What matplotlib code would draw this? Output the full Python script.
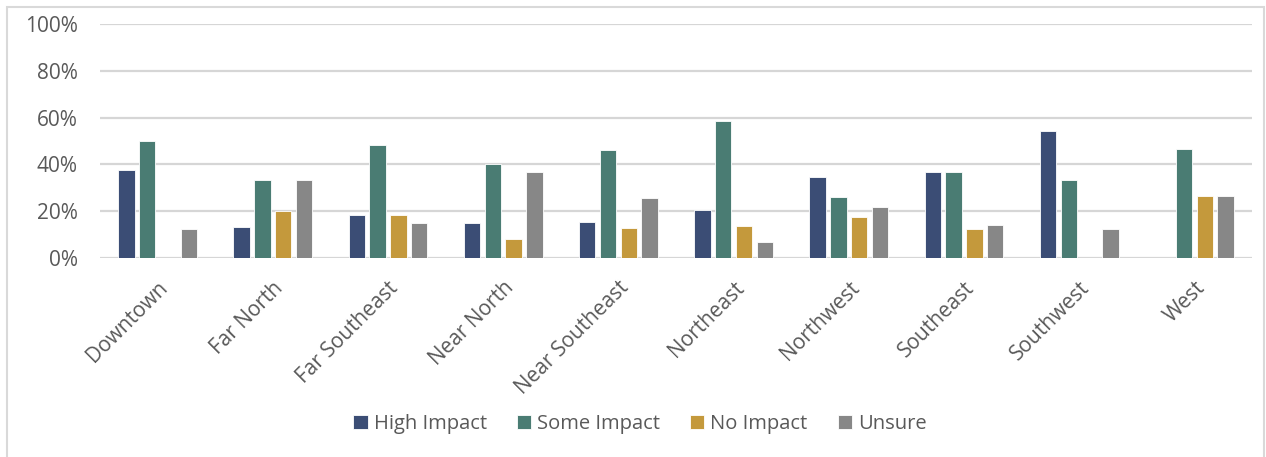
import numpy as np
import matplotlib.pyplot as plt
from matplotlib.patches import Rectangle
from matplotlib.ticker import PercentFormatter

plt.rcParams['font.family'] = ['Open Sans', 'DejaVu Sans']

regions = ["Downtown", "Far North", "Far Southeast", "Near North", "Near Southeast",
           "Northeast", "Northwest", "Southeast", "Southwest", "West"]
series = ["High Impact", "Some Impact", "No Impact", "Unsure"]

high_impact = [37.5, 13.3, 18.5, 15.0, 15.4, 20.7, 34.8, 36.8, 54.2, 0.0]
some_impact = [50.0, 33.3, 48.1, 40.0, 46.2, 58.6, 26.1, 36.8, 33.3, 46.7]
no_impact = [0.0, 20.0, 18.5, 8.0, 12.8, 13.8, 17.4, 12.3, 0.0, 26.7]
unsure = [12.5, 33.3, 14.8, 36.7, 25.6, 6.9, 21.7, 14.0, 12.5, 26.7]

colors = ["#3B4D75", "#4A7C73", "#C4993C", "#878787"]
text_color = "#595959"
grid_color = "#D6D6D6"

fig = plt.figure(figsize=(12.66, 4.57), dpi=100)
ax = fig.add_axes([100 / 1266, 1 - 258 / 457, 1152 / 1266, 234 / 457])

x = np.arange(len(regions))
step = 0.181
width = 0.142
for i, (name, vals) in enumerate(zip(series, [high_impact, some_impact, no_impact, unsure])):
    ax.bar(x + (i - 1.5) * step, vals, width, color=colors[i], label=name,
           edgecolor="white", linewidth=0.6, zorder=3)

ax.set_xlim(-0.5, len(regions) - 0.5)
ax.set_ylim(0, 100)
ax.set_yticks(np.arange(0, 101, 20))
ax.yaxis.set_major_formatter(PercentFormatter(decimals=0))
ax.grid(axis="y", color=grid_color, linewidth=1.6, zorder=0)
for s in ax.spines.values():
    s.set_visible(False)
ax.tick_params(axis="both", length=0, labelsize=15, labelcolor=text_color)
ax.tick_params(axis="y", pad=16)
ax.set_xticks(x)
ax.set_xticklabels(regions, rotation=45, ha="right", rotation_mode="anchor")
ax.tick_params(axis="x", pad=14)

fig.legend(loc="center", bbox_to_anchor=(640 / 1266, 1 - 424 / 457), ncol=4,
           frameon=False, fontsize=14.5, labelcolor=text_color, handlelength=0.7,
           handleheight=0.7, handletextpad=0.3, columnspacing=1.5)

# outer chart border (bottom edge falls outside the image)
fig.add_artist(Rectangle((7 / 1266, -0.1), 1257 / 1266, 1.1 - 7 / 457,
                         transform=fig.transFigure, fill=False,
                         edgecolor="#D9D9D9", linewidth=1.5))

fig.savefig("out.png", dpi=100)
